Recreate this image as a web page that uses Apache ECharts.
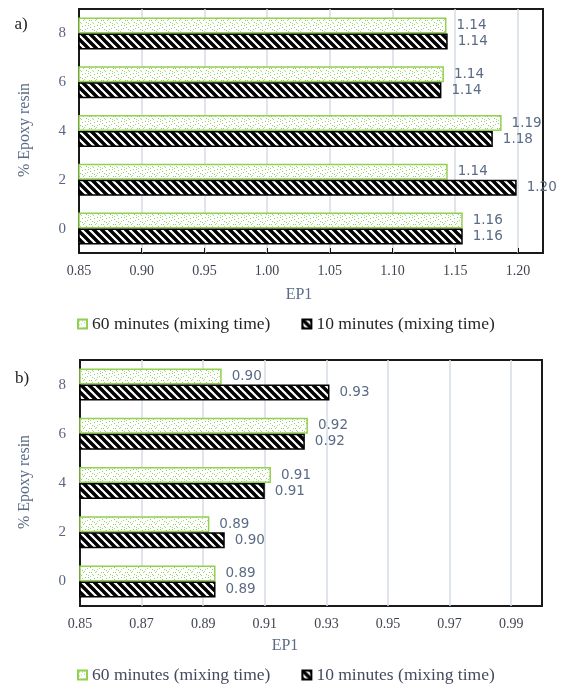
<!DOCTYPE html>
<html>
<head>
<meta charset="utf-8">
<script src="https://cdn.jsdelivr.net/npm/echarts@6/dist/echarts.min.js"></script>
<style>
  html, body { margin: 0; padding: 0; background: #fff; }
  #chart { width: 561px; height: 684px; }
</style>
</head>
<body>
<div id="chart"></div>
<script>
// Epoxy resin content (%) on the category axis
const categories = ['0', '2', '4', '6', '8'];

// Panel a) EP1 values
const ep1A_60min = [1.156, 1.144, 1.187, 1.141, 1.143];
const ep1A_10min = [1.156, 1.199, 1.180, 1.139, 1.144];

// Panel b) EP1 values
const ep1B_60min = [0.894, 0.892, 0.912, 0.924, 0.896];
const ep1B_10min = [0.894, 0.897, 0.910, 0.923, 0.931];

// Value axis ranges and tick steps
const axisA = { min: 0.85, max: 1.22, step: 0.05 };
const axisB = { min: 0.85, max: 1.00, step: 0.02 };

const seriesNames = ['60 minutes (mixing time)', '10 minutes (mixing time)'];

// Fill patterns
function dotPattern() {
  const c = document.createElement('canvas');
  c.width = 12; c.height = 12;
  const g = c.getContext('2d');
  g.fillStyle = '#ffffff';
  g.fillRect(0, 0, 12, 12);
  const dots = [[1,1],[6,0],[10,2],[3,4],[8,5],[0,7],[5,8],[11,8],[2,10],[8,10],[4,1],[9,11],[6,3],[1,5],[10,6],[4,11],[7,8]];
  dots.forEach(function (d, i) {
    g.fillStyle = i % 2 ? '#a6d97c' : '#8fcf5c';
    g.fillRect(d[0], d[1], 1, 1);
  });
  return c;
}
function hatchPattern() {
  const c = document.createElement('canvas');
  c.width = 8; c.height = 8;
  const g = c.getContext('2d');
  g.fillStyle = '#ffffff';
  g.fillRect(0, 0, 8, 8);
  g.strokeStyle = '#000000';
  g.lineWidth = 3.4;
  for (let k = -1; k <= 1; k++) {
    g.beginPath();
    g.moveTo(k * 8 - 1, -1);
    g.lineTo(k * 8 + 9, 9);
    g.stroke();
  }
  return c;
}
const greenFill = { image: dotPattern(), repeat: 'repeat' };
const blackFill = { image: hatchPattern(), repeat: 'repeat' };

const serif = 'Liberation Serif';
const labelColor = '#5b6b85';

function valueAxis(gridIndex, ax, withTicks) {
  return {
    type: 'value', gridIndex: gridIndex,
    min: ax.min, max: ax.max, interval: ax.step,
    axisLine: { show: false },
    axisTick: { show: withTicks, inside: true, length: 5, lineStyle: { color: '#111', width: 1 } },
    splitLine: { show: true, showMinLine: false, showMaxLine: false, lineStyle: { color: '#d6dde6', width: 1.5 } },
    axisLabel: {
      margin: 11, fontFamily: serif, fontSize: 14, color: '#3f4550',
      showMaxLabel: false,
      formatter: function (v) { return v.toFixed(2); }
    }
  };
}
function categoryAxis(gridIndex, margin) {
  return {
    type: 'category', gridIndex: gridIndex, data: categories,
    axisLine: { show: false }, axisTick: { show: false },
    axisLabel: { margin: margin, fontFamily: serif, fontSize: 15, color: '#5b6580' }
  };
}
function barSeries(name, idx, data, fill, border) {
  return {
    type: 'bar', name: name, xAxisIndex: idx, yAxisIndex: idx, data: data,
    barWidth: 16, barGap: '0%',
    itemStyle: { color: fill, borderColor: border, borderWidth: 1.5 },
    label: {
      show: true, position: 'right', distance: 10,
      fontFamily: 'DejaVu Sans', fontSize: 13.5, color: labelColor,
      formatter: function (p) { return p.value.toFixed(2); }
    }
  };
}
function legendAt(top, textColor) {
  return {
    left: 72, top: top, itemWidth: 9, itemHeight: 9, itemGap: 31,
    icon: 'rect', data: seriesNames,
    textStyle: { fontFamily: serif, fontSize: 17.5, color: textColor }
  };
}
function text(x, y, str, size, color, rotation) {
  return {
    type: 'text', x: x, y: y, rotation: rotation || 0,
    style: { text: str, fontFamily: serif, fontSize: size, fill: color, align: 'center', verticalAlign: 'middle' }
  };
}

const chart = echarts.init(document.getElementById('chart'), null, { renderer: 'canvas' });
chart.setOption({
  animation: false,
  backgroundColor: '#ffffff',
  grid: [
    { left: 79, top: 9, width: 464, height: 244, show: true, borderColor: '#1a1a1a', borderWidth: 2, backgroundColor: '#fff' },
    { left: 80, top: 360, width: 462, height: 246, show: true, borderColor: '#1a1a1a', borderWidth: 2, backgroundColor: '#fff' }
  ],
  xAxis: [valueAxis(0, axisA, true), valueAxis(1, axisB, false)],
  yAxis: [categoryAxis(0, 13), categoryAxis(1, 14)],
  legend: [legendAt(310, '#262626'), legendAt(661, '#454b5e')],
  series: [
    barSeries(seriesNames[0], 0, ep1A_60min, greenFill, '#92d050'),
    barSeries(seriesNames[1], 0, ep1A_10min, blackFill, '#000000'),
    barSeries(seriesNames[0], 1, ep1B_60min, greenFill, '#92d050'),
    barSeries(seriesNames[1], 1, ep1B_10min, blackFill, '#000000')
  ],
  graphic: [
    text(21, 25, 'a)', 17, '#222'),
    text(22, 379, 'b)', 17, '#222'),
    text(299, 295, 'EP1', 16, '#5b6b85'),
    text(285, 646, 'EP1', 16, '#5b6b85'),
    text(25, 130, '% Epoxy resin', 16, '#5b6b85', Math.PI / 2),
    text(25, 482, '% Epoxy resin', 16, '#5b6b85', Math.PI / 2)
  ]
});
</script>
</body>
</html>
